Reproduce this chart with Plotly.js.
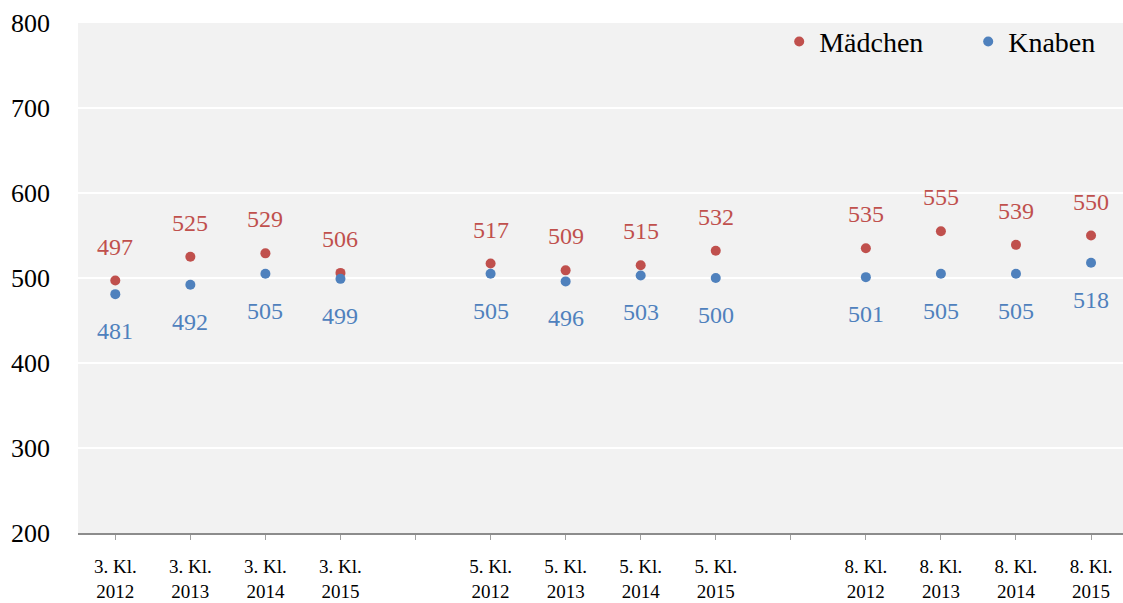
<!DOCTYPE html>
<html>
<head>
<meta charset="utf-8">
<script src="https://cdn.plot.ly/plotly-3.0.1.min.js"></script>
<style>html,body{margin:0;padding:0;background:#fff;}#chart{width:1123px;height:603px;}</style>
</head>
<body>
<div id="chart"></div>
<script>
// Slots along the x axis; empty strings are the gaps between grades
const categories = ["3. Kl.<br>2012","3. Kl.<br>2013","3. Kl.<br>2014","3. Kl.<br>2015","",
                    "5. Kl.<br>2012","5. Kl.<br>2013","5. Kl.<br>2014","5. Kl.<br>2015","",
                    "8. Kl.<br>2012","8. Kl.<br>2013","8. Kl.<br>2014","8. Kl.<br>2015"];
const maedchen = [497,525,529,506, 517,509,515,532, 535,555,539,550];
const knaben   = [481,492,505,499, 505,496,503,500, 501,505,505,518];
const yTicks = [200,300,400,500,600,700,800];

const RED = "#c0504d", BLUE = "#4f81bd";
const FONT = "Liberation Serif, Times New Roman, serif";

// positions of data slots (non-gap categories)
const xs = [];
categories.forEach((c,i)=>{ if(c!=="") xs.push(i); });

const traces = [
  {x: xs, y: maedchen, name: "Mädchen", type: "scatter", mode: "markers",
   marker: {color: RED, size: 10}},
  {x: xs, y: knaben, name: "Knaben", type: "scatter", mode: "markers",
   marker: {color: BLUE, size: 10}}
];

const annotations = [];
xs.forEach((x,i)=>{
  annotations.push({x: x, y: maedchen[i], xref: "x", yref: "y", text: String(maedchen[i]),
    showarrow: false, yshift: 34, font: {family: FONT, size: 24, color: RED}});
  annotations.push({x: x, y: knaben[i], xref: "x", yref: "y", text: String(knaben[i]),
    showarrow: false, yshift: -37, font: {family: FONT, size: 24, color: BLUE}});
});

const layout = {
  width: 1123, height: 603,
  margin: {l: 78, r: 0, t: 23, b: 70, pad: 0, autoexpand: false},
  paper_bgcolor: "#ffffff",
  plot_bgcolor: "#f2f2f2",
  font: {family: FONT, color: "#000"},
  showlegend: true,
  legend: {orientation: "h", x: 0.671, xanchor: "left", y: 0.963, yanchor: "middle",
           bgcolor: "rgba(0,0,0,0)", font: {family: FONT, size: 28, color: "#000"},
           itemwidth: 30, tracegroupgap: 0, entrywidth: 144, entrywidthmode: "pixels"},
  xaxis: {
    range: [-0.497, 13.426],
    tickmode: "array",
    tickvals: categories.map((c,i)=>i),
    ticktext: categories,
    ticks: "outside", ticklen: 5, tickwidth: 1, tickcolor: "#a0a0a0",
    showline: true, linecolor: "#8c8c8c", linewidth: 2,
    showgrid: false, zeroline: false,
    tickfont: {family: FONT, size: 19, color: "#000"},
    ticklabelstandoff: 10,
    fixedrange: true
  },
  yaxis: {
    range: [200, 800],
    tickmode: "array",
    tickvals: yTicks,
    ticktext: yTicks.map(String),
    showgrid: true, gridcolor: "#ffffff", gridwidth: 2,
    zeroline: false, showline: false, ticks: "",
    tickfont: {family: FONT, size: 26, color: "#000"},
    ticklabelstandoff: 27,
    fixedrange: true
  },
  annotations: annotations
};

Plotly.newPlot("chart", traces, layout, {displayModeBar: false, staticPlot: true});
</script>
</body>
</html>
